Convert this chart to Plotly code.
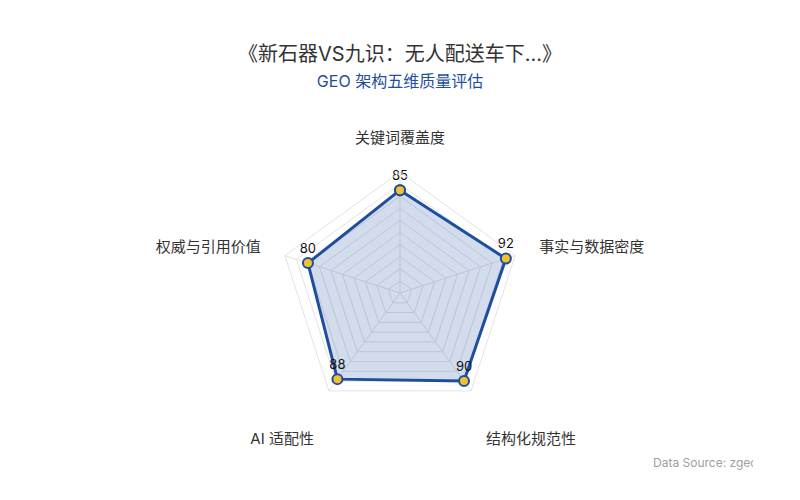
import plotly.graph_objects as go

# 五个维度及得分
dimensions = ["关键词覆盖度", "事实与数据密度", "结构化规范性", "AI 适配性", "权威与引用价值"]
scores = [85, 92, 90, 88, 80]
# 底部两个标签在原图中更靠下，用空行顶下去
tick_texts = ["关键词覆盖度", "事实与数据密度", "<br>结构化规范性", "<br>AI 适配性", "权威与引用价值"]

title_text = "《新石器VS九识：无人配送车下...》"
subtitle_text = "GEO 架构五维质量评估"
source_text = "Data Source: zgeo.ai"

font_family = "Inter, 'Noto Sans CJK SC', sans-serif"
blue = "#1f4e9e"
gold = "#f2c12e"

# 闭合多边形
r_closed = scores + scores[:1]
theta_closed = dimensions + dimensions[:1]
labels = [str(v) for v in scores] + [""]

fig = go.Figure()
fig.add_trace(go.Scatterpolar(
    r=r_closed,
    theta=theta_closed,
    mode="lines+markers+text",
    text=labels,
    textposition="top center",
    textfont=dict(size=13, color="#111"),
    fill="toself",
    fillcolor="rgba(31,78,158,0.2)",
    line=dict(color=blue, width=3),
    marker=dict(size=10, color=gold, line=dict(color=blue, width=2)),
    showlegend=False,
))

fig.update_layout(
    font=dict(family=font_family, color="#333"),
    paper_bgcolor="white",
    plot_bgcolor="white",
    margin=dict(l=80, r=80, t=100, b=60),
    title=dict(
        text=f"{title_text}<br><span style='font-size:16px;color:{blue}'>{subtitle_text}</span>",
        x=0.5, xanchor="center",
        y=0.891, yanchor="top",
        font=dict(size=20, color="#333"),
    ),
    polar=dict(
        domain=dict(x=[0, 1], y=[0.0556, 0.8025]),
        bgcolor="white",
        gridshape="linear",
        radialaxis=dict(
            range=[0, 100],
            dtick=10,
            showticklabels=False,
            ticks="",
            showline=False,
            gridcolor="#e3e3e3",
            gridwidth=1,
        ),
        angularaxis=dict(
            rotation=90,
            direction="clockwise",
            tickmode="array",
            tickvals=dimensions,
            ticktext=tick_texts,
            tickfont=dict(size=15, color="#333"),
            ticks="outside",
            ticklen=22,
            tickcolor="rgba(0,0,0,0)",
            linecolor="#e3e3e3",
            gridcolor="#e3e3e3",
        ),
    ),
    annotations=[dict(
        text=source_text,
        xref="paper", yref="paper",
        x=0.902, y=-0.0926,
        xanchor="left", yanchor="middle",
        width=100, align="left",
        showarrow=False,
        font=dict(size=12, color="#a0a0a0"),
    )],
)

fig.write_html("out.html")
